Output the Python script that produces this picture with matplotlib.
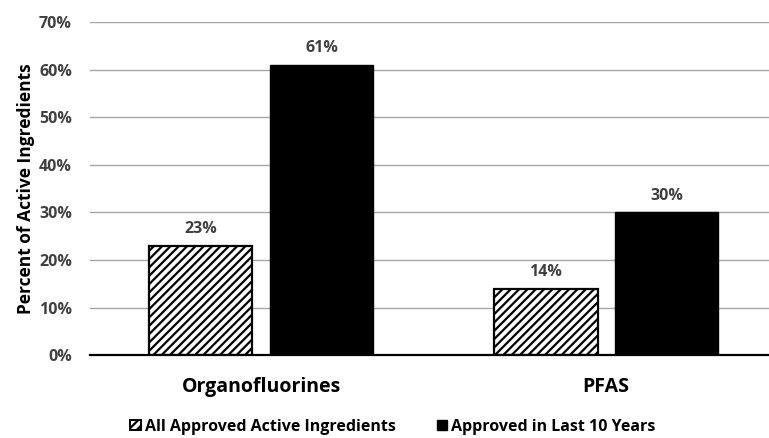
"""Share of organofluorine / PFAS active ingredients, grouped bar chart."""

import matplotlib

matplotlib.use("Agg")

import matplotlib.pyplot as plt
import numpy as np
from matplotlib.patches import Patch

plt.rcParams["font.family"] = ["Open Sans", "DejaVu Sans"]
plt.rcParams["hatch.linewidth"] = 1.6

categories = ["Organofluorines", "PFAS"]
series_names = ["All Approved Active Ingredients", "Approved in Last 10 Years"]
all_approved = [23, 14]
last_10_years = [61, 30]
y_ticks = [0, 10, 20, 30, 40, 50, 60, 70]

TEXT = "#404040"

fig = plt.figure(figsize=(7.69, 4.38), dpi=100)
ax = fig.add_axes([0.117, 0.189, 0.883, 0.761])

x = np.arange(len(categories))
width = 0.30
offset = 0.175

bars_all = ax.bar(x - offset, all_approved, width, color="white", edgecolor="black",
                  hatch="////", linewidth=1.6, zorder=3)
bars_new = ax.bar(x + offset, last_10_years, width, color="black", edgecolor="black",
                  linewidth=1.0, zorder=3)

for bars in (bars_all, bars_new):
    for bar in bars:
        h = bar.get_height()
        ax.annotate(f"{h:.0f}%", (bar.get_x() + bar.get_width() / 2, h),
                    xytext=(0, 6), textcoords="offset points", ha="center", va="bottom",
                    fontsize=11.5, fontweight="bold", color=TEXT)

ax.set_xlim(-0.496, 1.472)
ax.set_ylim(0, 70)
ax.set_yticks(y_ticks)
ax.set_yticklabels([f"{t}%" for t in y_ticks], fontsize=11.5, fontweight="bold", color=TEXT)
ax.set_xticks(x)
ax.set_xticklabels(categories, fontsize=14, fontweight="bold", color="black")
ax.tick_params(axis="both", length=0)
ax.tick_params(axis="x", pad=16)
ax.tick_params(axis="y", pad=13)
ax.set_ylabel("Percent of Active Ingredients", fontsize=12.5, fontweight="bold", color="black",
              labelpad=3)

ax.grid(axis="y", color="#a6a6a6", linewidth=1.0, zorder=0)
for side in ("top", "right", "left"):
    ax.spines[side].set_visible(False)
ax.spines["bottom"].set_linewidth(1.6)
ax.spines["bottom"].set_zorder(4)

handles = [
    Patch(facecolor="white", edgecolor="black", hatch="////", linewidth=1.4),
    Patch(facecolor="black", edgecolor="black"),
]
fig.legend(handles, series_names, loc="center", bbox_to_anchor=(0.511, 0.026), ncol=2,
           frameon=False, handlelength=0.65, handleheight=0.65, handletextpad=0.25,
           columnspacing=2.6, borderpad=0, prop={"weight": "bold", "size": 11.5})

fig.savefig("out.png", dpi=100)
